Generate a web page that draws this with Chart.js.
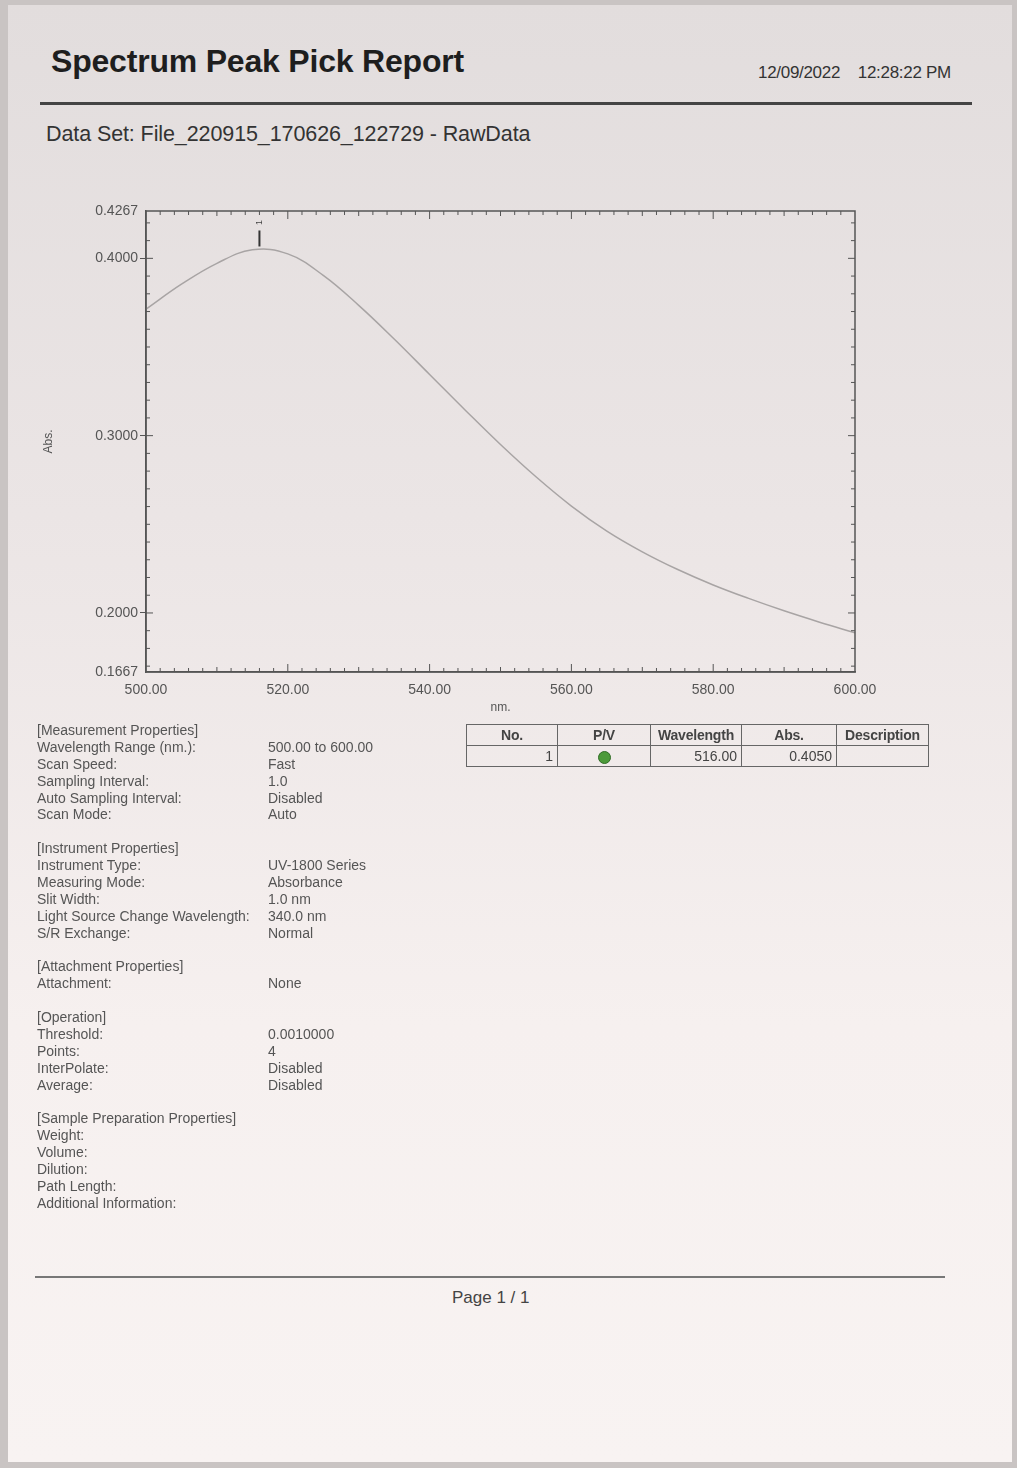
<!DOCTYPE html>
<html>
<head>
<meta charset="utf-8">
<script src="https://cdn.jsdelivr.net/npm/chart.js@4.4.0/dist/chart.umd.min.js"></script>
<style>
  html, body { margin: 0; padding: 0; }
  body {
    width: 1017px; height: 1468px; position: relative; overflow: hidden;
    background: #c9c4c3;
    font-family: "Liberation Sans", Arial, sans-serif;
  }
  #page {
    position: absolute; left: 8px; top: 5px; width: 1004px; height: 1457px;
    background: linear-gradient(180deg, #e2dddd 0%, #ebe5e5 35%, #f6f0ef 70%, #f8f3f2 100%);
  }
  .abs { position: absolute; white-space: nowrap; }
  #title { left: 51px; top: 43px; font-size: 32px; font-weight: bold; color: #1e1e1e; letter-spacing: -0.2px; }
  #stamp { left: 758px; top: 63px; font-size: 17px; color: #333; letter-spacing: -0.3px; }
  #rule1 { left: 40px; top: 102px; width: 932px; height: 3px; background: #444; }
  #dataset { left: 46px; top: 122px; font-size: 21.5px; color: #333; letter-spacing: -0.1px; }
  #chartBox { position: absolute; left: 20px; top: 190px; width: 880px; height: 540px; }
  .props { position: absolute; left: 37px; top: 722px; font-size: 14px; color: #555; line-height: 16.9px; white-space: nowrap; letter-spacing: 0; }
  .props .row { height: 16.9px; position: relative; }
  .props .gap { height: 16.9px; }
  .props .v { position: absolute; left: 231px; top: 0; }
  table.peak {
    position: absolute; left: 466px; top: 724px; border-collapse: collapse;
    font-size: 14px; color: #444;
  }
  table.peak td, table.peak th { border: 1.5px solid #666; height: 20px; padding: 0 4px; }
  table.peak th { font-weight: bold; text-align: center; letter-spacing: -0.2px; }
  table.peak td { text-align: right; }
  .dot { display: inline-block; width: 11px; height: 11px; border-radius: 50%; background: #4c9a3a; border: 1px solid #2f6b25; vertical-align: middle; }
  #rule2 { left: 35px; top: 1276px; width: 910px; height: 2px; background: #777; }
  #pageNo { left: 452px; top: 1288px; font-size: 17px; color: #444; }
</style>
</head>
<body>
<div id="page"></div>
<div class="abs" id="title">Spectrum Peak Pick Report</div>
<div class="abs" id="stamp">12/09/2022&nbsp;&nbsp;&nbsp;&nbsp;12:28:22 PM</div>
<div class="abs" id="rule1"></div>
<div class="abs" id="dataset">Data Set: File_220915_170626_122729 - RawData</div>
<div id="chartBox"><canvas id="spectrum"></canvas></div>
<div class="props" id="props"></div>
<table class="peak" id="peakTable"></table>
<div class="abs" id="rule2"></div>
<div class="abs" id="pageNo">Page 1 / 1</div>

<script>
// spectrum (nm / Abs)
const wavelengths = [500, 505, 510, 515, 520, 525, 530, 535, 540, 545, 550, 555, 560, 565, 570, 575, 580, 585, 590, 595, 600];
const absorbance = [0.3713, 0.3854, 0.3972, 0.4048, 0.4025, 0.3904, 0.3735, 0.3545, 0.3345, 0.3145, 0.2950, 0.2768, 0.2603, 0.2462, 0.2345, 0.2245, 0.2158, 0.2082, 0.2012, 0.1948, 0.1888];

const xTicks = [500, 520, 540, 560, 580, 600];
const yTicks = [0.1667, 0.2000, 0.3000, 0.4000, 0.4267];

// peak pick result
const peakNo = [1];
const peakWavelength = [516.00];
const peakAbs = [0.4050];

// report properties
const propSections = [
    ["[Measurement Properties]", [
        ["Wavelength Range (nm.):", "500.00 to 600.00"],
        ["Scan Speed:", "Fast"],
        ["Sampling Interval:", "1.0"],
        ["Auto Sampling Interval:", "Disabled"],
        ["Scan Mode:", "Auto"]]],
    ["[Instrument Properties]", [
        ["Instrument Type:", "UV-1800 Series"],
        ["Measuring Mode:", "Absorbance"],
        ["Slit Width:", "1.0 nm"],
        ["Light Source Change Wavelength:", "340.0 nm"],
        ["S/R Exchange:", "Normal"]]],
    ["[Attachment Properties]", [
        ["Attachment:", "None"]]],
    ["[Operation]", [
        ["Threshold:", "0.0010000"],
        ["Points:", "4"],
        ["InterPolate:", "Disabled"],
        ["Average:", "Disabled"]]],
    ["[Sample Preparation Properties]", [
        ["Weight:", ""],
        ["Volume:", ""],
        ["Dilution:", ""],
        ["Path Length:", ""],
        ["Additional Information:", ""]]]
];

// properties block
let html = "";
propSections.forEach(function (sec, i) {
    if (i > 0) html += '<div class="gap"></div>';
    html += '<div class="row">' + sec[0] + '</div>';
    sec[1].forEach(function (r) {
        html += '<div class="row">' + r[0] + '<span class="v">' + r[1] + '</span></div>';
    });
});
document.getElementById("props").innerHTML = html;

// peak table
let t = '<tr><th style="width:82px">No.</th><th style="width:84px">P/V</th><th style="width:82px">Wavelength</th><th style="width:86px">Abs.</th><th style="width:83px">Description</th></tr>';
peakNo.forEach(function (n, i) {
    t += '<tr><td>' + n + '</td><td style="text-align:center"><span class="dot"></span></td><td>' +
        peakWavelength[i].toFixed(2) + '</td><td>' + peakAbs[i].toFixed(4) + '</td><td></td></tr>';
});
document.getElementById("peakTable").innerHTML = t;

const axisColor = "#555";

// frame, inward minor ticks and the peak marker
const framePlugin = {
    id: "frame",
    afterDatasetsDraw(chart) {
        const ctx = chart.ctx;
        const a = chart.chartArea;
        const xs = chart.scales.x, ys = chart.scales.y;
        ctx.save();
        ctx.strokeStyle = axisColor;
        ctx.lineWidth = 1.5;
        ctx.strokeRect(a.left, a.top, a.right - a.left, a.bottom - a.top);
        ctx.lineWidth = 1;
        for (let nm = 502; nm < 600; nm += 2) {
            const px = xs.getPixelForValue(nm);
            const len = nm % 20 === 0 ? 8 : (nm % 10 === 0 ? 5 : 4);
            ctx.beginPath();
            ctx.moveTo(px, a.bottom); ctx.lineTo(px, a.bottom - len);
            ctx.moveTo(px, a.top); ctx.lineTo(px, a.top + len);
            ctx.stroke();
        }
        for (let k = 17; k <= 42; k++) {
            const py = ys.getPixelForValue(k / 100);
            const len = k % 10 === 0 ? 7 : 4;
            ctx.beginPath();
            ctx.moveTo(a.left, py); ctx.lineTo(a.left + len, py);
            ctx.moveTo(a.right, py); ctx.lineTo(a.right - len, py);
            ctx.stroke();
        }
        // peak pick marker
        peakWavelength.forEach(function (w, i) {
            const px = xs.getPixelForValue(w);
            const py = ys.getPixelForValue(peakAbs[i]);
            ctx.strokeStyle = "#333";
            ctx.lineWidth = 2;
            ctx.beginPath();
            ctx.moveTo(px, py - 3); ctx.lineTo(px, py - 19);
            ctx.stroke();
            ctx.fillStyle = "#444";
            ctx.font = "9px 'Liberation Sans', Arial";
            ctx.translate(px, py - 27);
            ctx.rotate(-Math.PI / 2);
            ctx.textAlign = "center";
            ctx.textBaseline = "middle";
            ctx.fillText(String(peakNo[i]), 0, 0);
            ctx.setTransform(1, 0, 0, 1, 0, 0);
        });
        ctx.restore();
    }
};

new Chart(document.getElementById("spectrum"), {
    type: "line",
    data: {
        datasets: [{
            data: wavelengths.map(function (w, i) { return { x: w, y: absorbance[i] }; }),
            borderColor: "#a8a4a4",
            borderWidth: 1.5,
            pointRadius: 0,
            tension: 0.4,
            fill: false
        }]
    },
    options: {
        responsive: true,
        maintainAspectRatio: false,
        animation: false,
        layout: { padding: { left: 0, top: 21, right: 45, bottom: 0 } },
        plugins: { legend: { display: false }, tooltip: { enabled: false } },
        scales: {
            x: {
                type: "linear",
                min: 500,
                max: 600,
                afterBuildTicks: function (scale) { scale.ticks = xTicks.map(function (v) { return { value: v }; }); },
                afterFit: function (scale) { scale.height = 58; },
                grid: { display: true, drawOnChartArea: false, drawTicks: false },
                border: { color: axisColor, width: 1.5 },
                ticks: {
                    padding: 10,
                    color: "#555",
                    font: { size: 14, family: "'Liberation Sans', Arial" },
                    maxRotation: 0,
                    callback: function (v) { return Number(v).toFixed(2); }
                },
                title: {
                    display: true, text: "nm.", color: "#555",
                    font: { size: 12, family: "'Liberation Sans', Arial" },
                    padding: { top: 0, bottom: 15 },
                    align: "center"
                }
            },
            y: {
                min: 0.1667,
                max: 0.4267,
                afterBuildTicks: function (scale) { scale.ticks = yTicks.map(function (v) { return { value: v }; }); },
                afterFit: function (scale) { scale.width = 126; },
                grid: {
                    display: true, drawOnChartArea: false, drawTicks: true, tickLength: 6,
                    tickColor: function (c) {
                        const v = c.tick ? c.tick.value : 0;
                        return (v === yTicks[0] || v === yTicks[yTicks.length - 1]) ? "rgba(0,0,0,0)" : axisColor;
                    }
                },
                border: { color: axisColor, width: 1.5 },
                ticks: {
                    padding: 2,
                    color: "#555",
                    font: { size: 14, family: "'Liberation Sans', Arial" },
                    callback: function (v) { return Number(v).toFixed(4); }
                },
                title: {
                    display: true, text: "Abs.", color: "#555",
                    font: { size: 12, family: "'Liberation Sans', Arial" },
                    padding: { top: 21, bottom: 0 }
                }
            }
        }
    },
    plugins: [framePlugin]
});
</script>
</body>
</html>
